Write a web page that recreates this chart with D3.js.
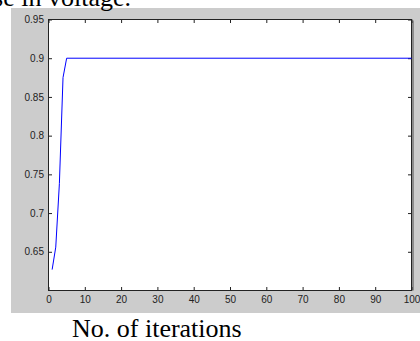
<!DOCTYPE html>
<html>
<head>
<meta charset="utf-8">
<script src="https://cdn.jsdelivr.net/npm/d3@7"></script>
<style>
  html, body { margin: 0; padding: 0; background: #fff; }
  svg { display: block; }
  .tick text { font-family: "Liberation Sans", Arial, sans-serif; font-size: 10px; fill: #222; }
</style>
</head>
<body>
<div id="container"></div>
<script>
// data
const iterations = [1, 2, 3, 4, 5, 100];
const voltage = [0.627, 0.656, 0.738, 0.875, 0.9, 0.9];
const xTicks = [0, 10, 20, 30, 40, 50, 60, 70, 80, 90, 100];
const yTicks = [0.65, 0.7, 0.75, 0.8, 0.85, 0.9, 0.95];

const width = 420, height = 341;
const margin = { top: 19.5, right: 8.5, bottom: 50.5, left: 48.5 };
const innerW = width - margin.left - margin.right;
const innerH = height - margin.top - margin.bottom;

const svg = d3.select('#container')
  .append('svg')
    .attr('width', width)
    .attr('height', height);

// grey figure background
svg.append('rect')
  .attr('x', 11).attr('y', 8)
  .attr('width', 409).attr('height', 305)
  .attr('fill', '#cccccc');

// caption clipped at top
svg.append('text')
  .attr('x', 131).attr('y', 6)
  .attr('text-anchor', 'end')
  .style('font-family', '"Liberation Serif", "Times New Roman", serif')
  .style('font-size', '26px')
  .text('se in voltage.');

const g = svg.append('g')
  .attr('transform', `translate(${margin.left},${margin.top})`);

const x = d3.scaleLinear().domain([0, 100]).range([0, innerW]);
const y = d3.scaleLinear().domain([0.6, 0.95]).range([innerH, 0]);

// shadow on right edge
g.append('line')
  .attr('x1', innerW + 1.5).attr('x2', innerW + 1.5)
  .attr('y1', 1).attr('y2', innerH)
  .attr('stroke', '#8c8c8c').attr('stroke-width', 2);

g.append('rect')
  .attr('width', innerW).attr('height', innerH)
  .attr('fill', '#fff');

const fmt = d3.format('');

g.append('g')
  .attr('transform', `translate(0,${innerH})`)
  .call(d3.axisBottom(x).tickValues(xTicks).tickSizeInner(-3.5).tickSizeOuter(0).tickPadding(5).tickFormat(fmt));

g.append('g')
  .call(d3.axisTop(x).tickValues(xTicks).tickSizeInner(-3.5).tickSizeOuter(0).tickFormat(''));

g.append('g')
  .call(d3.axisLeft(y).tickValues(yTicks).tickSizeInner(-3.5).tickSizeOuter(0).tickPadding(4.5).tickFormat(fmt));

g.append('g')
  .attr('transform', `translate(${innerW},0)`)
  .call(d3.axisRight(y).tickValues(yTicks).tickSizeInner(-3.5).tickSizeOuter(0).tickFormat(''));

g.selectAll('.domain').remove();
g.selectAll('.tick line').attr('stroke', '#222');

// axes box
g.append('rect')
  .attr('width', innerW).attr('height', innerH)
  .attr('fill', 'none')
  .attr('stroke', '#222')
  .attr('stroke-width', 1);

const line = d3.line()
  .x((d, i) => x(iterations[i]))
  .y(d => y(d));

g.append('path')
  .datum(voltage)
  .attr('d', line)
  .attr('fill', 'none')
  .attr('stroke', '#0000ff')
  .attr('stroke-width', 1);

// x axis caption
svg.append('text')
  .attr('x', 72).attr('y', 337)
  .style('font-family', '"Liberation Serif", "Times New Roman", serif')
  .style('font-size', '26px')
  .text('No. of iterations');
</script>
</body>
</html>
